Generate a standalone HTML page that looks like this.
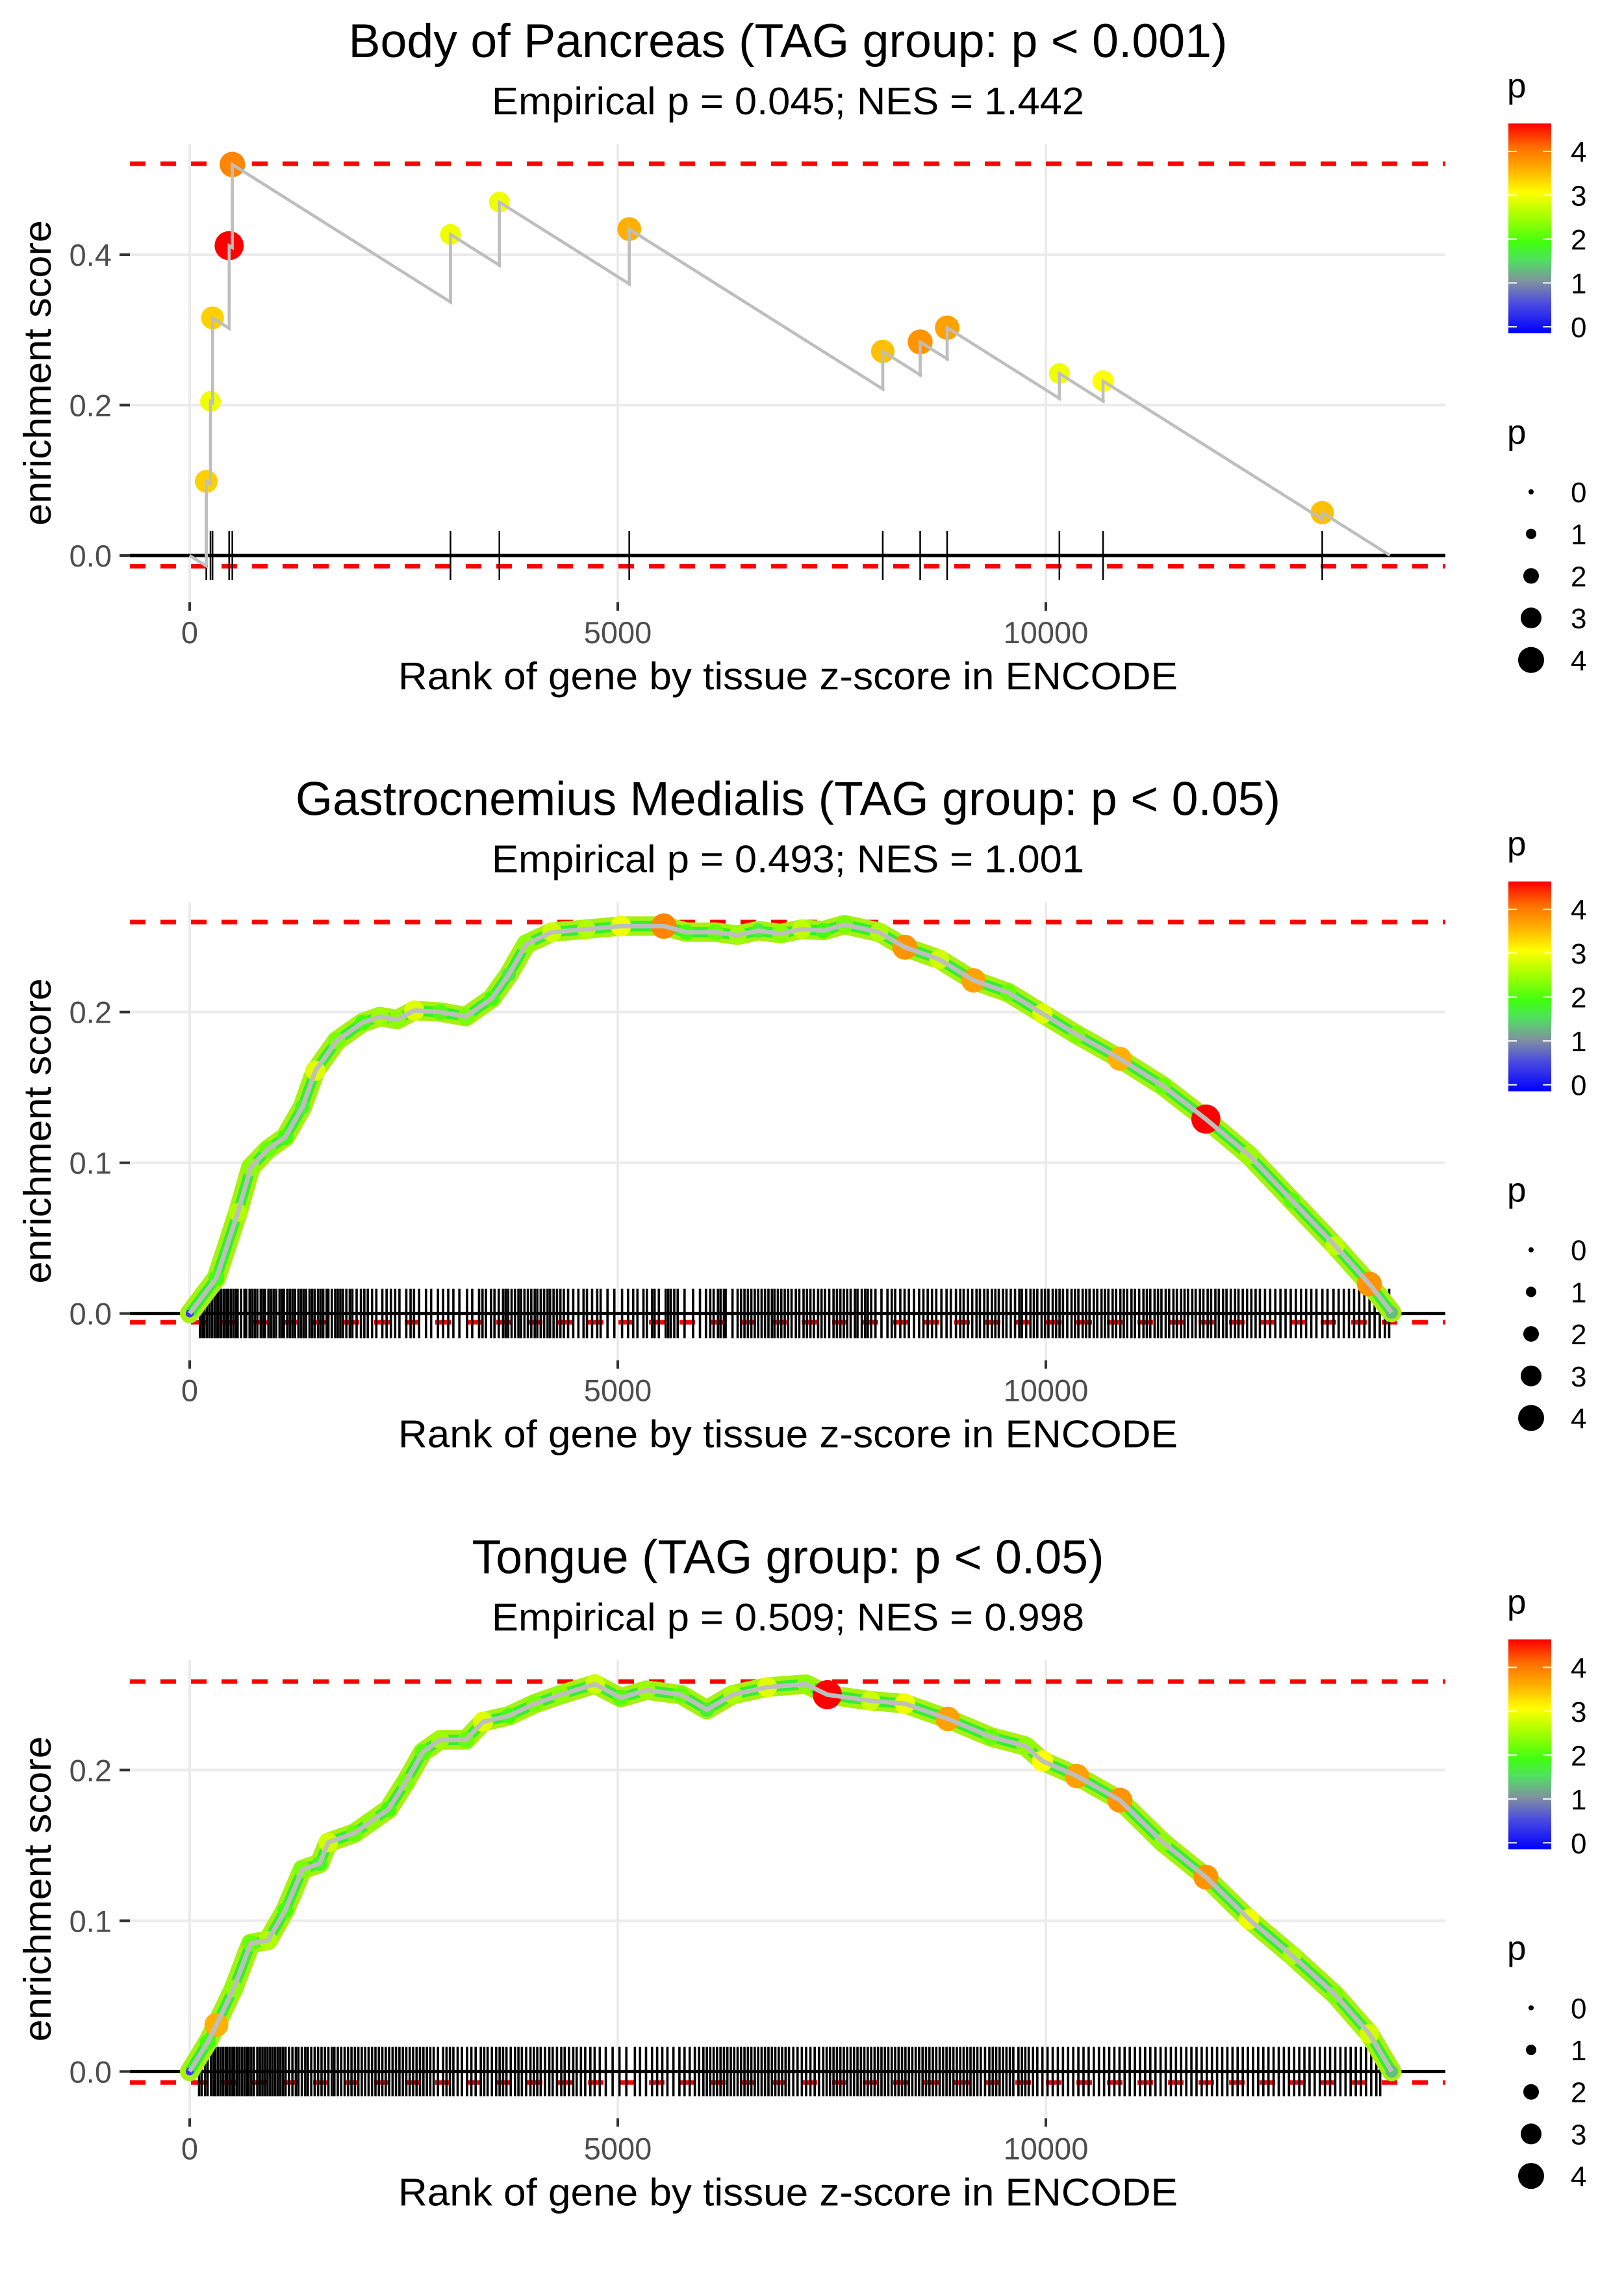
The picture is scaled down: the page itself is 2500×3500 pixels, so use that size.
<!DOCTYPE html>
<html><head><meta charset="utf-8"><title>Enrichment plots</title>
<style>html,body{margin:0;padding:0;background:#fff}svg{display:block}text{font-family:"Liberation Sans",Arial,sans-serif}</style>
</head><body>
<svg id="chart" width="2500" height="3500" viewBox="0 0 2500 3500" xmlns="http://www.w3.org/2000/svg">
<defs>
<linearGradient id="pgrad" x1="0" y1="1" x2="0" y2="0">
<stop offset="0" stop-color="#0000ff"/><stop offset="0.14" stop-color="#4a4ae0"/><stop offset="0.245" stop-color="#8090a0"/>
<stop offset="0.35" stop-color="#50e060"/><stop offset="0.43" stop-color="#40ff10"/><stop offset="0.57" stop-color="#b0ff00"/>
<stop offset="0.67" stop-color="#ffff00"/><stop offset="0.78" stop-color="#ffb000"/><stop offset="0.885" stop-color="#ff7000"/><stop offset="1" stop-color="#ff0000"/>
</linearGradient>
</defs>
</svg>
<script>
// ---------- data ----------
const panelTitles = ["Body of Pancreas (TAG group: p < 0.001)", "Gastrocnemius Medialis (TAG group: p < 0.05)", "Tongue (TAG group: p < 0.05)"];
const panelSubtitles = ["Empirical p = 0.045; NES = 1.442", "Empirical p = 0.493; NES = 1.001", "Empirical p = 0.509; NES = 0.998"];
const xTicks = [0, 5000, 10000];
const xTickLabels = ["0", "5000", "10000"];
const yTicks1 = [0.0, 0.2, 0.4];
const yTickLabels1 = ["0.0", "0.2", "0.4"];
const yTicks23 = [0.0, 0.1, 0.2];
const yTickLabels23 = ["0.0", "0.1", "0.2"];
const colorTicks = [0, 1, 2, 3, 4];
const sizeLegendValues = [0, 1, 2, 3, 4];
const dashedHi = [0.521, 0.2597, 0.2587];
const dashedLo = [-0.0143, -0.0058, -0.0073];
const nGenes = 14017;

// Panel 1 hits
const p1Ranks = [194, 243, 267, 461, 498, 3046, 3617, 5134, 8095, 8532, 8847, 10158, 10668, 13228];
const p1ES    = [0.0986, 0.205, 0.316, 0.412, 0.520, 0.427, 0.470, 0.434, 0.2715, 0.284, 0.303, 0.242, 0.232, 0.057];
const p1P     = [3.4, 3.0, 3.4, 4.6, 3.9, 3.0, 3.0, 3.6, 3.5, 3.8, 3.7, 3.0, 3.1, 3.5];
const p1MissPenalty = 0.0000718;

// Panel 2 running score
const p2Ranks = [0, 312, 563, 714, 915, 1116, 1317, 1468, 1719, 2020, 2221, 2422, 2623, 2925, 3226, 3528, 3729, 3930, 4231, 4633, 5035, 5538, 5800, 6141, 6400, 6643, 6900, 7146, 7400, 7648, 8050, 8352, 8754, 9156, 9558, 9960, 10362, 10864, 11367, 11869, 12372, 12874, 13377, 13779, 14040];
const p2ES    = [0, 0.0235, 0.067, 0.097, 0.109, 0.117, 0.137, 0.161, 0.181, 0.193, 0.197, 0.195, 0.201, 0.200, 0.197, 0.209, 0.225, 0.245, 0.253, 0.255, 0.257, 0.257, 0.253, 0.253, 0.251, 0.254, 0.252, 0.255, 0.254, 0.258, 0.253, 0.243, 0.235, 0.221, 0.213, 0.199, 0.185, 0.169, 0.151, 0.129, 0.105, 0.075, 0.045, 0.0195, 0.0006];
const p2P     = [0.5, 2.0, 2.6, 2.4, 2.2, 2.0, 1.8, 2.9, 2.3, 2.0, 2.5, 2.4, 2.9, 2.1, 2.3, 2.0, 1.7, 2.4, 2.8, 2.6, 3.0, 3.9, 2.0, 2.2, 2.5, 1.8, 2.4, 2.7, 2.0, 2.3, 2.6, 3.8, 2.8, 3.7, 2.2, 2.9, 2.3, 3.6, 2.2, 4.6, 2.5, 2.1, 2.7, 3.8, 1.4];
const p2Rug = [120,150,170,200,230,260,290,320,340,370,400,430,450,480,510,540,560,600,640,660,700,730,760,790,830,860,880,920,950,980,1010,1050,1080,1100,1140,1170,1200,1230,1270,1300,1330,1360,1400,1430,1460,1500,1530,1560,1600,1620,1660,1700,1730,1760,1790,1830,1870,1900,1950,2000,2040,2080,2130,2180,2250,2300,2350,2400,2450,2530,2580,2620,2680,2760,2820,2900,2960,3020,3080,3150,3240,3300,3380,3420,3460,3520,3560,3610,3660,3690,3720,3760,3800,3840,3870,3910,3950,3990,4030,4060,4100,4140,4180,4210,4250,4290,4330,4370,4420,4480,4540,4600,4640,4700,4760,4800,4880,4960,5050,5120,5180,5230,5300,5340,5400,5430,5480,5560,5590,5620,5660,5700,5780,5880,5960,6030,6080,6120,6170,6200,6240,6260,6340,6400,6440,6480,6520,6560,6600,6640,6680,6720,6760,6800,6830,6870,6910,6950,6990,7030,7080,7120,7170,7210,7250,7290,7340,7380,7420,7470,7520,7560,7600,7640,7680,7720,7770,7800,7850,7890,7920,7960,8010,8080,8150,8200,8240,8300,8350,8400,8460,8520,8570,8620,8670,8720,8780,8840,8890,8950,9000,9040,9090,9140,9190,9230,9280,9320,9370,9410,9450,9500,9540,9590,9640,9690,9720,9770,9820,9860,9900,9950,9990,10030,10080,10120,10160,10200,10250,10300,10340,10380,10430,10470,10510,10560,10600,10650,10690,10730,10780,10820,10870,10910,10950,11000,11040,11090,11140,11180,11220,11270,11310,11350,11400,11440,11490,11530,11580,11620,11660,11710,11750,11800,11840,11890,11930,11980,12020,12070,12110,12160,12210,12250,12300,12350,12400,12450,12500,12560,12620,12680,12740,12800,12860,12920,12980,13040,13100,13160,13230,13290,13360,13420,13480,13540,13600,13660,13720,13780,13840,13900,13960,14010];

// Panel 3 running score
const p3Ranks = [0, 211, 312, 513, 714, 915, 1116, 1317, 1518, 1618, 1920, 2121, 2322, 2523, 2724, 2925, 3226, 3427, 3729, 4030, 4332, 4734, 5035, 5337, 5739, 6040, 6342, 6744, 7196, 7447, 7950, 8352, 8854, 9357, 9759, 9960, 10362, 10864, 11367, 11869, 12372, 12874, 13377, 13779, 14040];
const p3ES    = [0, 0.0195, 0.031, 0.055, 0.085, 0.087, 0.107, 0.134, 0.138, 0.152, 0.158, 0.166, 0.174, 0.192, 0.212, 0.220, 0.220, 0.232, 0.236, 0.244, 0.250, 0.257, 0.248, 0.253, 0.250, 0.240, 0.250, 0.255, 0.257, 0.250, 0.246, 0.244, 0.234, 0.222, 0.216, 0.206, 0.196, 0.180, 0.152, 0.129, 0.101, 0.077, 0.051, 0.025, 0];
const p3P     = [0.5, 2.0, 3.6, 2.4, 2.2, 2.6, 2.0, 2.3, 1.9, 2.8, 2.2, 2.4, 2.0, 2.3, 2.1, 2.5, 2.2, 2.9, 2.0, 2.3, 2.4, 2.8, 2.1, 2.5, 2.2, 1.8, 2.6, 2.9, 2.4, 4.6, 2.8, 3.0, 3.7, 2.2, 2.4, 3.1, 3.7, 3.8, 2.4, 3.8, 3.0, 2.6, 2.3, 2.8, 1.4];
const p3Rug = [110,140,180,210,250,280,300,330,360,390,420,440,470,500,520,550,580,610,640,670,690,720,750,790,820,850,880,910,940,970,1000,1030,1060,1090,1120,1160,1200,1240,1270,1310,1350,1380,1420,1460,1500,1540,1580,1620,1660,1690,1730,1770,1810,1850,1890,1930,1970,2010,2050,2090,2130,2170,2210,2250,2290,2330,2370,2410,2450,2490,2530,2570,2610,2650,2690,2730,2770,2810,2850,2900,2960,3000,3040,3080,3130,3180,3240,3290,3340,3400,3440,3480,3530,3580,3620,3660,3700,3750,3800,3840,3880,3930,3980,4020,4060,4100,4150,4200,4240,4290,4340,4380,4430,4480,4520,4570,4620,4680,4730,4790,4860,4940,5020,5100,5200,5260,5330,5400,5460,5520,5580,5650,5720,5780,5840,5900,5950,6000,6040,6080,6120,6160,6200,6240,6280,6320,6360,6400,6440,6480,6520,6560,6600,6640,6680,6720,6760,6800,6840,6880,6920,6960,7000,7050,7100,7150,7200,7250,7300,7350,7400,7440,7480,7520,7560,7600,7640,7680,7720,7760,7800,7840,7880,7920,7960,8000,8040,8080,8120,8160,8200,8240,8280,8320,8360,8400,8440,8480,8520,8560,8600,8640,8680,8720,8760,8800,8840,8880,8920,8960,9000,9040,9080,9120,9160,9200,9240,9290,9340,9380,9420,9460,9500,9540,9580,9620,9680,9720,9760,9800,9850,9900,9960,10020,10080,10140,10200,10260,10320,10380,10440,10500,10560,10620,10680,10740,10800,10860,10920,10980,11040,11100,11160,11220,11280,11340,11400,11460,11520,11580,11640,11700,11760,11820,11880,11940,12000,12060,12120,12180,12240,12300,12360,12420,12480,12540,12600,12660,12720,12780,12840,12900,12960,13020,13080,13140,13200,13260,13320,13380,13440,13500,13560,13620,13680,13740,13800,13860,13905];

// ---------- drawing ----------
const NS = "http://www.w3.org/2000/svg";
const svg = document.getElementById("chart");
const PANEL_H = 3500 / 3;
const PL = 200, PR = 2225, PTOP = 222, PBOT = 927, ZERO = 855, CX = 1213;
function xScale(r) { return 292 + r * 0.1318; }
function yScaleFor(i) {
  const k = i === 0 ? 1157.5 : 2320;
  const top = i * PANEL_H;
  return v => top + ZERO - v * k;
}
function rOf(p) { return 4 + 4 * p; }
const cStops = [[0,[0,0,255]],[0.65,[74,74,224]],[1.1,[128,144,160]],[1.6,[80,224,96]],[2.0,[64,255,16]],[2.6,[176,255,0]],[3.1,[255,255,0]],[3.6,[255,176,0]],[4.05,[255,112,0]],[4.6,[255,0,0]]];
function colOf(p) {
  if (p <= cStops[0][0]) return "rgb(0,0,255)";
  for (let i = 1; i < cStops.length; i++) {
    if (p <= cStops[i][0]) {
      const a = cStops[i-1], b = cStops[i], t = (p - a[0]) / (b[0] - a[0]);
      const c = a[1].map((v, j) => Math.round(v + (b[1][j] - v) * t));
      return "rgb(" + c.join(",") + ")";
    }
  }
  return "rgb(255,0,0)";
}
function mk(tag, attrs, parent) {
  const el = document.createElementNS(NS, tag);
  for (const k in attrs) el.setAttribute(k, attrs[k]);
  (parent || svg).appendChild(el);
  return el;
}
function txt(s, attrs, parent) { const t = mk("text", attrs, parent); t.textContent = s; return t; }

for (let i = 0; i < 3; i++) {
  const T = i * PANEL_H;
  const y = yScaleFor(i);
  const g = mk("g", {});
  
  

  let el = txt(panelTitles[i], {x: CX, y: T + 88, "font-size": 73.5, "text-anchor": "middle", fill: "#000"}, g);
  
  
  el = txt(panelSubtitles[i], {x: CX, y: T + 176, "font-size": 59, "text-anchor": "middle", fill: "#000", textLength: 912, lengthAdjust: "spacingAndGlyphs"}, g);
  
  

  const yT = i === 0 ? yTicks1 : yTicks23;
  const yL = i === 0 ? yTickLabels1 : yTickLabels23;
  yT.forEach((v, j) => {
    const gl = mk("line", {x1: PL, x2: PR, y1: y(v), y2: y(v), stroke: "#ebebeb", "stroke-width": 4}, g);
    
    
    const tk = mk("line", {x1: 184, x2: 200, y1: y(v), y2: y(v), stroke: "#333", "stroke-width": 4}, g);
    
    
    const tl = txt(yL[j], {x: 172, y: y(v) + 17, "font-size": 47, "text-anchor": "end", fill: "#4d4d4d"}, g);
    
    
  });
  xTicks.forEach((v, j) => {
    const gl = mk("line", {x1: xScale(v), x2: xScale(v), y1: T + PTOP, y2: T + PBOT, stroke: "#ebebeb", "stroke-width": 4}, g);
    
    
    const tk = mk("line", {x1: xScale(v), x2: xScale(v), y1: T + PBOT, y2: T + PBOT + 13, stroke: "#333", "stroke-width": 4}, g);
    
    
    const tl = txt(xTickLabels[j], {x: xScale(v), y: T + 990, "font-size": 47, "text-anchor": "middle", fill: "#4d4d4d"}, g);
    
    
  });

  el = txt("Rank of gene by tissue z-score in ENCODE", {x: CX, y: T + 1061, "font-size": 59, "text-anchor": "middle", fill: "#000", textLength: 1200, lengthAdjust: "spacingAndGlyphs"}, g);
  
  
  el = txt("enrichment score", {x: 0, y: 0, "font-size": 59, "text-anchor": "middle", fill: "#000", textLength: 470, lengthAdjust: "spacingAndGlyphs", transform: "translate(78," + (T + 574) + ") rotate(-90)"}, g);
  
  

  [dashedHi[i], dashedLo[i]].forEach(v => {
    const d = mk("line", {x1: PL, x2: PR, y1: y(v), y2: y(v), stroke: "#ff0000", "stroke-width": 7, "stroke-dasharray": "24 23"}, g);
    
    
  });

  el = mk("line", {x1: PL, x2: PR, y1: y(0), y2: y(0), stroke: "#000", "stroke-width": 5}, g);
  
  

  const rug = i === 0 ? p1Ranks : (i === 1 ? p2Rug : p3Rug);
  const rugG = mk("g", {}, g);
  
  
  rug.forEach(r => {
    const l = mk("line", {x1: xScale(r), x2: xScale(r), y1: y(0) - 38, y2: y(0) + 38, stroke: "#000", "stroke-width": i === 0 ? 2.5 : 3.6}, rugG);
    
    
  });

  if (i === 0) {
    const pts = [[0, 0]];
    let prevR = 0, prevV = 0;
    const bottoms = [];
    p1Ranks.forEach((r, j) => {
      const before = prevV - (r - prevR) * p1MissPenalty;
      pts.push([r, before]); pts.push([r, p1ES[j]]);
      bottoms.push([r, before]);
      prevR = r; prevV = p1ES[j];
    });
    pts.push([nGenes, prevV - (nGenes - prevR) * p1MissPenalty]);
    const ptsStr = pts.map(p => xScale(p[0]) + "," + y(p[1])).join(" ");
    const pl = mk("polyline", {points: ptsStr, fill: "none", stroke: "#bebebe", "stroke-width": 4.5}, g);
    
    
    bottoms.forEach(b => {
      const c = mk("circle", {cx: xScale(b[0]), cy: y(b[1]), r: 2.5, fill: "#3030ff"}, g);
      
      
    });
    p1Ranks.forEach((r, j) => {
      const c = mk("circle", {cx: xScale(r), cy: y(p1ES[j]), r: rOf(p1P[j]), fill: colOf(p1P[j])}, g);
      
      
    });
    const pl2 = mk("polyline", {points: ptsStr, fill: "none", stroke: "#bebebe", "stroke-width": 4.5}, g);
    
    
  } else {
    const R = i === 1 ? p2Ranks : p3Ranks;
    const E = i === 1 ? p2ES : p3ES;
    const P = i === 1 ? p2P : p3P;
    const ptsStr = R.map((r, j) => xScale(r) + "," + y(E[j])).join(" ");
    const band = mk("polyline", {points: ptsStr, fill: "none", stroke: "#a8f010", "stroke-width": 30, "stroke-linejoin": "round", "stroke-linecap": "round"}, g);
    
    
    const band2 = mk("polyline", {points: ptsStr, fill: "none", stroke: "#30f030", "stroke-width": 16, "stroke-linejoin": "round"}, g);
    
    
    R.forEach((r, j) => {
      const c = mk("circle", {cx: xScale(r), cy: y(E[j]), r: rOf(P[j]), fill: colOf(P[j])}, g);
      
      
    });
    const pl = mk("polyline", {points: ptsStr, fill: "none", stroke: "#bebebe", "stroke-width": 7, "stroke-linejoin": "round"}, g);
    
    
  }

  const lg = mk("g", {}, g);
  
  
  el = txt("p", {x: 2320, y: T + 150, "font-size": 53, fill: "#000"}, lg);
  
  
  el = mk("rect", {x: 2322, y: T + 190, width: 66, height: 323, fill: "url(#pgrad)"}, lg);
  
  
  colorTicks.forEach(v => {
    const cy = T + 503 - v * 67.5;
    const a = mk("line", {x1: 2322, x2: 2335, y1: cy, y2: cy, stroke: "#fff", "stroke-width": 2}, lg);
    
    
    const b = mk("line", {x1: 2375, x2: 2388, y1: cy, y2: cy, stroke: "#fff", "stroke-width": 2}, lg);
    
    
    const t = txt(String(v), {x: 2418, y: cy + 16, "font-size": 44, fill: "#000"}, lg);
    
    
  });

  const sg = mk("g", {}, g);
  
  
  el = txt("p", {x: 2320, y: T + 683, "font-size": 53, fill: "#000"}, sg);
  
  
  sizeLegendValues.forEach((v, j) => {
    const cy = T + 757 + j * 64.7;
    const c = mk("circle", {cx: 2357, cy: cy, r: rOf(v), fill: "#000"}, sg);
    
    
    const t = txt(String(v), {x: 2418, y: cy + 16, "font-size": 44, fill: "#000"}, sg);
    
    
  });
}
</script>
</body></html>
